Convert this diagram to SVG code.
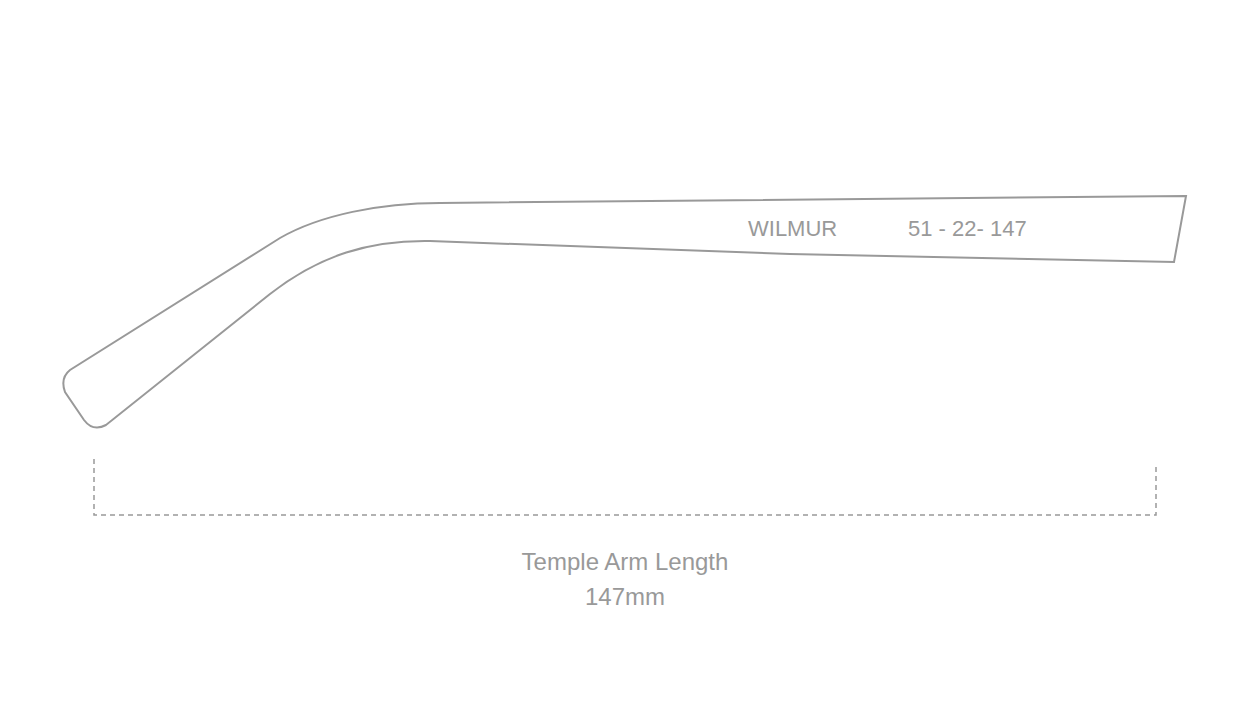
<svg xmlns="http://www.w3.org/2000/svg" width="1251" height="705" viewBox="0 0 1251 705">
<style>
.l{fill:none;stroke:#999;stroke-width:2}
.d{fill:none;stroke:#999;stroke-width:1.5;stroke-dasharray:5 4}
text{font-family:"Liberation Sans",Arial,sans-serif;fill:#999}
</style>
<rect width="1251" height="705" fill="#fff"/>
<g id="temple">
<path class="l" d="M1186,196 L440,203 C380,203 320,215 280,238 L70,370 Q60,378 65,392 L84,420 Q93,432 106,425 L270,294 C320,255 370,240 430,241 L790,254 L1174,262 Z"/>
<text x="748" y="236" font-size="22">WILMUR</text>
<text x="908" y="236" font-size="22">51 - 22- 147</text>
</g>
<g id="connectors">
<path class="d" d="M94,459 V515 H1156 V463"/>
</g>
<g id="label">
<text x="625" y="570" font-size="24" text-anchor="middle">Temple Arm Length</text>
<text x="625" y="605" font-size="24" text-anchor="middle">147mm</text>
</g>
</svg>
